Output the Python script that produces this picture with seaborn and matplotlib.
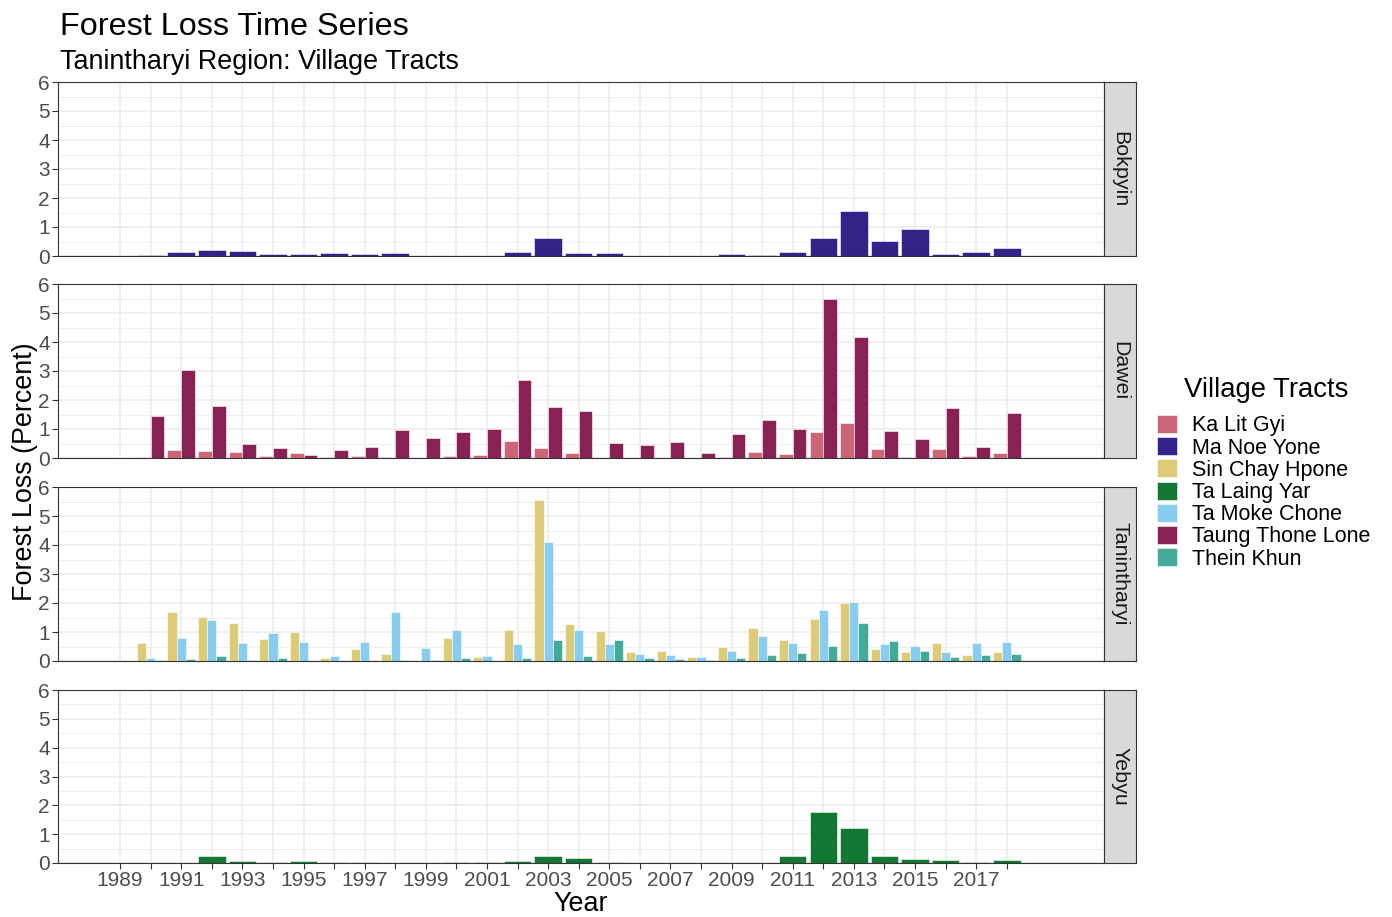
import numpy as np
import pandas as pd
import matplotlib
matplotlib.use("Agg")
import matplotlib.pyplot as plt
from matplotlib.patches import Patch
import seaborn as sns

sns.set_theme(style="white")
plt.rcParams['font.family'] = ['Liberation Sans', 'DejaVu Sans']
plt.rcParams['text.color'] = 'black'

years = list(range(1990, 2019))

# Bokpyin
ma_noe_yone = [0.05, 0.15, 0.22, 0.16, 0.08, 0.07, 0.10, 0.06, 0.09, 0.0, 0.0, 0.0, 0.13, 0.63, 0.10,
               0.09, 0.0, 0.0, 0.0, 0.06, 0.03, 0.15, 0.61, 1.56, 0.53, 0.94, 0.06, 0.13, 0.28]
# Dawei
ka_lit_gyi = [0.02, 0.26, 0.23, 0.20, 0.08, 0.17, 0.02, 0.07, 0.02, 0.01, 0.07, 0.10, 0.58, 0.33, 0.17,
              0.01, 0.0, 0.0, 0.0, 0.05, 0.21, 0.13, 0.91, 1.19, 0.32, 0.05, 0.30, 0.07, 0.18]
taung_thone_lone = [1.44, 3.05, 1.81, 0.47, 0.35, 0.12, 0.28, 0.39, 0.96, 0.70, 0.89, 0.99, 2.70, 1.75, 1.62,
                    0.52, 0.45, 0.54, 0.16, 0.82, 1.31, 1.00, 5.47, 4.16, 0.92, 0.65, 1.73, 0.39, 1.56]
# Tanintharyi
sin_chay_hpone = [0.61, 1.69, 1.51, 1.32, 0.76, 1.01, 0.10, 0.40, 0.23, 0.05, 0.79, 0.14, 1.06, 5.55, 1.29,
                  1.05, 0.30, 0.36, 0.15, 0.48, 1.13, 0.72, 1.45, 2.00, 0.40, 0.32, 0.63, 0.20, 0.32]
ta_moke_chone = [0.10, 0.80, 1.41, 0.62, 0.95, 0.67, 0.17, 0.67, 1.70, 0.44, 1.06, 0.16, 0.60, 4.09, 1.06,
                 0.59, 0.23, 0.20, 0.15, 0.33, 0.86, 0.61, 1.76, 2.02, 0.57, 0.53, 0.31, 0.62, 0.66]
thein_khun = [0.02, 0.07, 0.16, 0.03, 0.09, 0.0, 0.0, 0.0, 0.03, 0.03, 0.10, 0.0, 0.10, 0.72, 0.17,
              0.72, 0.11, 0.06, 0.02, 0.11, 0.21, 0.26, 0.53, 1.32, 0.68, 0.36, 0.13, 0.20, 0.24]
# Yebyu
ta_laing_yar = [0.0, 0.0, 0.25, 0.07, 0.02, 0.06, 0.05, 0.02, 0.01, 0.0, 0.02, 0.02, 0.08, 0.24, 0.16,
                0.03, 0.01, 0.0, 0.01, 0.0, 0.01, 0.23, 1.78, 1.22, 0.24, 0.13, 0.09, 0.03, 0.11]

districts = ["Bokpyin", "Dawei", "Tanintharyi", "Yebyu"]
tracts = ["Ka Lit Gyi", "Ma Noe Yone", "Sin Chay Hpone", "Ta Laing Yar",
          "Ta Moke Chone", "Taung Thone Lone", "Thein Khun"]
colors = ["#CC6677", "#332288", "#DDCC77", "#117733", "#88CCEE", "#882255", "#44AA99"]
palette = dict(zip(tracts, colors))

series = {
    ("Bokpyin", "Ma Noe Yone"): ma_noe_yone,
    ("Dawei", "Ka Lit Gyi"): ka_lit_gyi,
    ("Dawei", "Taung Thone Lone"): taung_thone_lone,
    ("Tanintharyi", "Sin Chay Hpone"): sin_chay_hpone,
    ("Tanintharyi", "Ta Moke Chone"): ta_moke_chone,
    ("Tanintharyi", "Thein Khun"): thein_khun,
    ("Yebyu", "Ta Laing Yar"): ta_laing_yar,
}
rows = []
for (d, t), vals in series.items():
    for y, v in zip(years, vals):
        rows.append({"District": d, "Tract": t, "Year": y, "Loss": v})
df = pd.DataFrame(rows)

W, H = 1392, 917
fig = plt.figure(figsize=(W / 100, H / 100), dpi=100)

left_px, right_px = 58, 1104
tops = [82, 284, 487, 690]
bots = [256, 458, 661, 863]
strip_w = 32
grid_col = "#EBEBEB"
border_col = "#333333"
tick_fs = 15

for i, d in enumerate(districts):
    ax = fig.add_axes([left_px / W, 1 - bots[i] / H, (right_px - left_px) / W, (bots[i] - tops[i]) / H])
    sub = df[df.District == d]
    order = [t for t in tracts if t in sub.Tract.unique()]
    sns.barplot(data=sub, x="Year", y="Loss", hue="Tract", hue_order=order, palette=palette,
                native_scale=True, width=0.9, dodge=True, errorbar=None, saturation=1,
                edgecolor="white", linewidth=0.4, legend=False, ax=ax)
    ax.set_xlim(1986.97, 2021.18)
    ax.set_ylim(0, 6)
    ax.set_yticks(range(0, 7))
    ax.set_yticks(np.arange(0.5, 6, 1), minor=True)
    ax.set_xticks(range(1989, 2019))
    ax.set_axisbelow(True)
    ax.grid(True, which="major", color=grid_col, linewidth=1.1)
    ax.grid(True, which="minor", axis="y", color=grid_col, linewidth=0.6)
    ax.tick_params(axis="y", which="major", left=True, length=4, width=0.8, color=border_col,
                   labelsize=tick_fs, labelcolor="#4D4D4D", pad=2)
    ax.tick_params(axis="y", which="minor", left=False)
    if i == 3:
        ax.set_xticklabels([str(y) if y % 2 == 1 else "" for y in range(1989, 2019)])
        ax.tick_params(axis="x", bottom=True, length=4, width=0.8, color=border_col,
                       labelsize=tick_fs, labelcolor="#4D4D4D", pad=2)
    else:
        ax.tick_params(axis="x", bottom=False, labelbottom=False)
    ax.set_xlabel("")
    ax.set_ylabel("")
    for s in ax.spines.values():
        s.set_visible(True)
        s.set_color(border_col)
        s.set_linewidth(0.8)
    # strip
    sax = fig.add_axes([right_px / W, 1 - bots[i] / H, strip_w / W, (bots[i] - tops[i]) / H])
    sax.set_facecolor("#D9D9D9")
    sax.set_xticks([])
    sax.set_yticks([])
    for s in sax.spines.values():
        s.set_color(border_col)
        s.set_linewidth(0.8)
    sax.text(0.5, 0.5, d, rotation=-90, ha="center", va="center", fontsize=15.4,
             color="#1A1A1A", transform=sax.transAxes)

fig.text(60 / W, 1 - 35 / H, "Forest Loss Time Series", fontsize=23.3, ha="left", va="baseline")
fig.text(60 / W, 1 - 69 / H, "Tanintharyi Region: Village Tracts", fontsize=19.4, ha="left", va="baseline")
fig.text(25 / W, 1 - 472 / H, "Forest Loss (Percent)", fontsize=19.4, rotation=90, ha="center", va="center")
fig.text(581 / W, 1 - 904 / H, "Year", fontsize=19.4, ha="center", va="center")

fig.text(1184 / W, 1 - 390 / H, "Village Tracts", fontsize=19.8, ha="left", va="center")
handles = [Patch(facecolor=palette[t], edgecolor="white", linewidth=0.4, label=t) for t in tracts]
leg = fig.legend(handles=handles, loc="upper left", bbox_to_anchor=(1157 / W, 1 - 415 / H),
                 frameon=False, fontsize=15.5,
                 handlelength=0.93, handleheight=0.9, labelspacing=0.04, handletextpad=0.68,
                 borderaxespad=0, borderpad=0)

fig.savefig("out.png", dpi=100)
